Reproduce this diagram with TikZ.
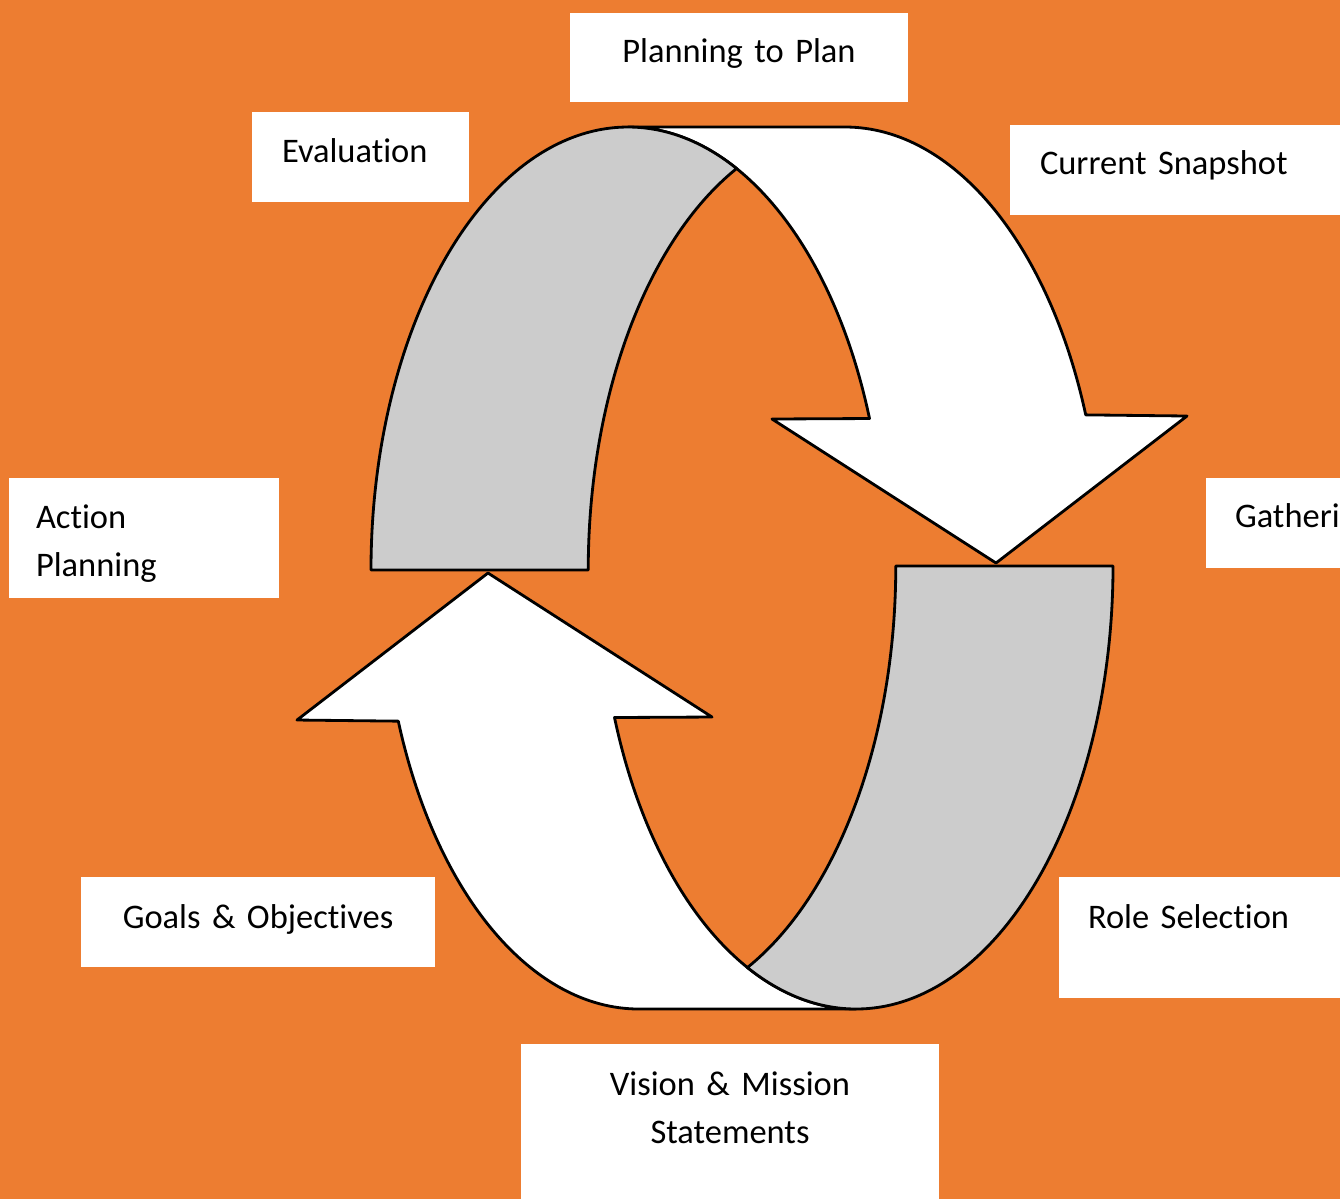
\documentclass[tikz,border=0pt]{standalone}
\usepackage{fontspec}
\setmainfont{Carlito}[Ligatures=NoCommon]
\definecolor{bgorange}{HTML}{ED7D31}
\definecolor{backgrey}{HTML}{CCCCCC}
% one unit of the picture
\newlength{\pix}
\setlength{\pix}{0.01cm}
\tikzset{
  lbl/.style={fill=white, anchor=north west, inner sep=0pt, outer sep=0pt,
    font=\fontsize{9.8}{13.9}\selectfont},
  band/.style={draw=black, line width=0.8pt, line join=round},
}
\begin{document}
\begin{tikzpicture}[x=0.01cm, y=-0.01cm]
\useasboundingbox (0,0) rectangle (1340,1199);
\fill[bgorange] (0,0) rectangle (1340,1199);

% the two bent arrows, the lower one is the upper one turned round
\foreach \turn in {0,180}{
  \begin{scope}[rotate around={\turn:(742,568)}]
    % front of the band with the head
    \draw[band, fill=white] (628,127) -- (845,127)
      arc[start angle=270, end angle=339.5, x radius=257, y radius=443]
      -- (1187,416) -- (996,563) -- (772,419) -- (869.5,418.5)
      arc[start angle=340, end angle=270, x radius=257, y radius=443] -- cycle;
    % back of the band
    \draw[band, fill=backgrey] (371,570)
      arc[start angle=180, end angle=295, x radius=257, y radius=443]
      arc[start angle=245, end angle=180, x radius=257, y radius=443] -- cycle;
  \end{scope}
}

% stage labels
\node[lbl, text width=338\pix, align=center, text height=49\pix, text depth=40\pix] (plan) at (570,13) {Planning to Plan};
\node[lbl, inner xsep=30\pix, text width=157\pix, align=left, text height=50\pix, text depth=40\pix] (eval) at (252,112) {Evaluation};
\node[lbl, inner xsep=30\pix, text width=290\pix, align=left, text height=49\pix, text depth=41\pix] (snap) at (1010,125) {Current Snapshot};
\node[lbl, inner xsep=27\pix, text width=216\pix, align=left, text height=50\pix, text depth=70\pix] (act) at (9,478) {Action\\Planning};
\node[lbl, inner xsep=29\pix, text width=136\pix, align=left, text height=49\pix, text depth=41\pix] (gath) at (1206,478) {Gatheri};
\node[lbl, inner xsep=29\pix, text width=283\pix, align=left, text height=51\pix, text depth=70\pix] (role) at (1059,877) {Role Selection};
\node[lbl, text width=354\pix, align=center, text height=51\pix, text depth=39\pix] (goals) at (81,877) {Goals \& Objectives};
\node[lbl, text width=418\pix, align=center, text height=51\pix, text depth=135\pix] (vision) at (521,1044) {Vision \& Mission\\Statements};
\end{tikzpicture}
\end{document}
